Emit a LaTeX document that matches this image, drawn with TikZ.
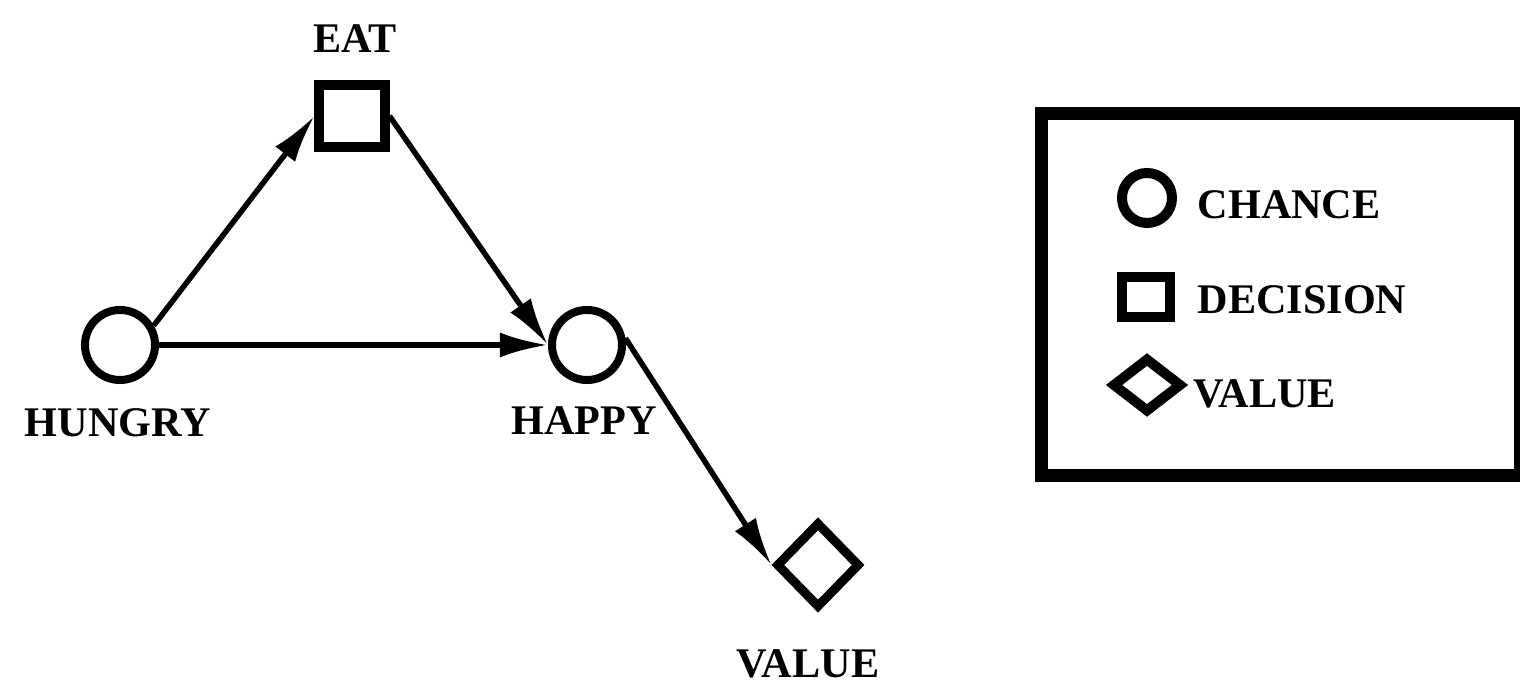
\documentclass[tikz,border=0pt]{standalone}
\usepackage{fontspec}
\setmainfont{Liberation Serif}
\usetikzlibrary{arrows.meta,shapes.geometric}

\begin{document}
\begin{tikzpicture}[x=0.01cm,y=-0.01cm,>={Latex[length=0.48cm,width=0.25cm]},
 chance/.style={draw,circle,line width=0.08cm,minimum size=0.70cm,inner sep=0pt},
 decision/.style={draw,rectangle,line width=0.10cm,minimum width=0.65cm,minimum height=0.61cm,inner sep=0pt},
 utility/.style={draw,diamond,line width=0.09cm,minimum width=0.84cm,minimum height=0.86cm,inner sep=0pt},
 lbl/.style={font=\bfseries\fontsize{12}{14}\selectfont,inner sep=0pt},
 link/.style={->,line width=0.055cm}]
\useasboundingbox (0,0) rectangle (1520,692);
% diagram
\node[chance] (hungry) at (120,345) {};
\node[decision] (eat) at (352,116) {};
\node[chance] (happy) at (587,345) {};
\node[utility] (value) at (818,565) {};
\node[lbl] (hungrylbl) at (118,423) {HUNGRY};
\node[lbl] (eatlbl) at (355,39) {EAT};
\node[lbl] (happylbl) at (584,421) {HAPPY};
\node[lbl] (valuelbl) at (808,664) {VALUE};
\draw[link] (hungry.30) -- (eat.west);
\draw[link] (eat.east) -- (happy.west);
\draw[link] (hungry) -- (happy.west);
\draw[link] (happy.10) -- (value.west);
% legend
\draw[line width=0.13cm] (1041,114) rectangle (1520,476);
\node[chance,line width=0.1cm,minimum size=0.50cm] (keychance) at (1147,198) {};
\node[lbl,anchor=west] (keychancetxt) at (1197,205) {CHANCE};
\node[decision,minimum width=0.48cm,minimum height=0.40cm] (keydecision) at (1146,297) {};
\node[lbl,anchor=west] (keydecisiontxt) at (1197,300) {DECISION};
\node[utility,line width=0.1cm,minimum width=0.70cm,minimum height=0.55cm] (keyvalue) at (1147,385) {};
\node[lbl,anchor=west] (keyvaluetxt) at (1193,394) {VALUE};
\end{tikzpicture}
\end{document}
